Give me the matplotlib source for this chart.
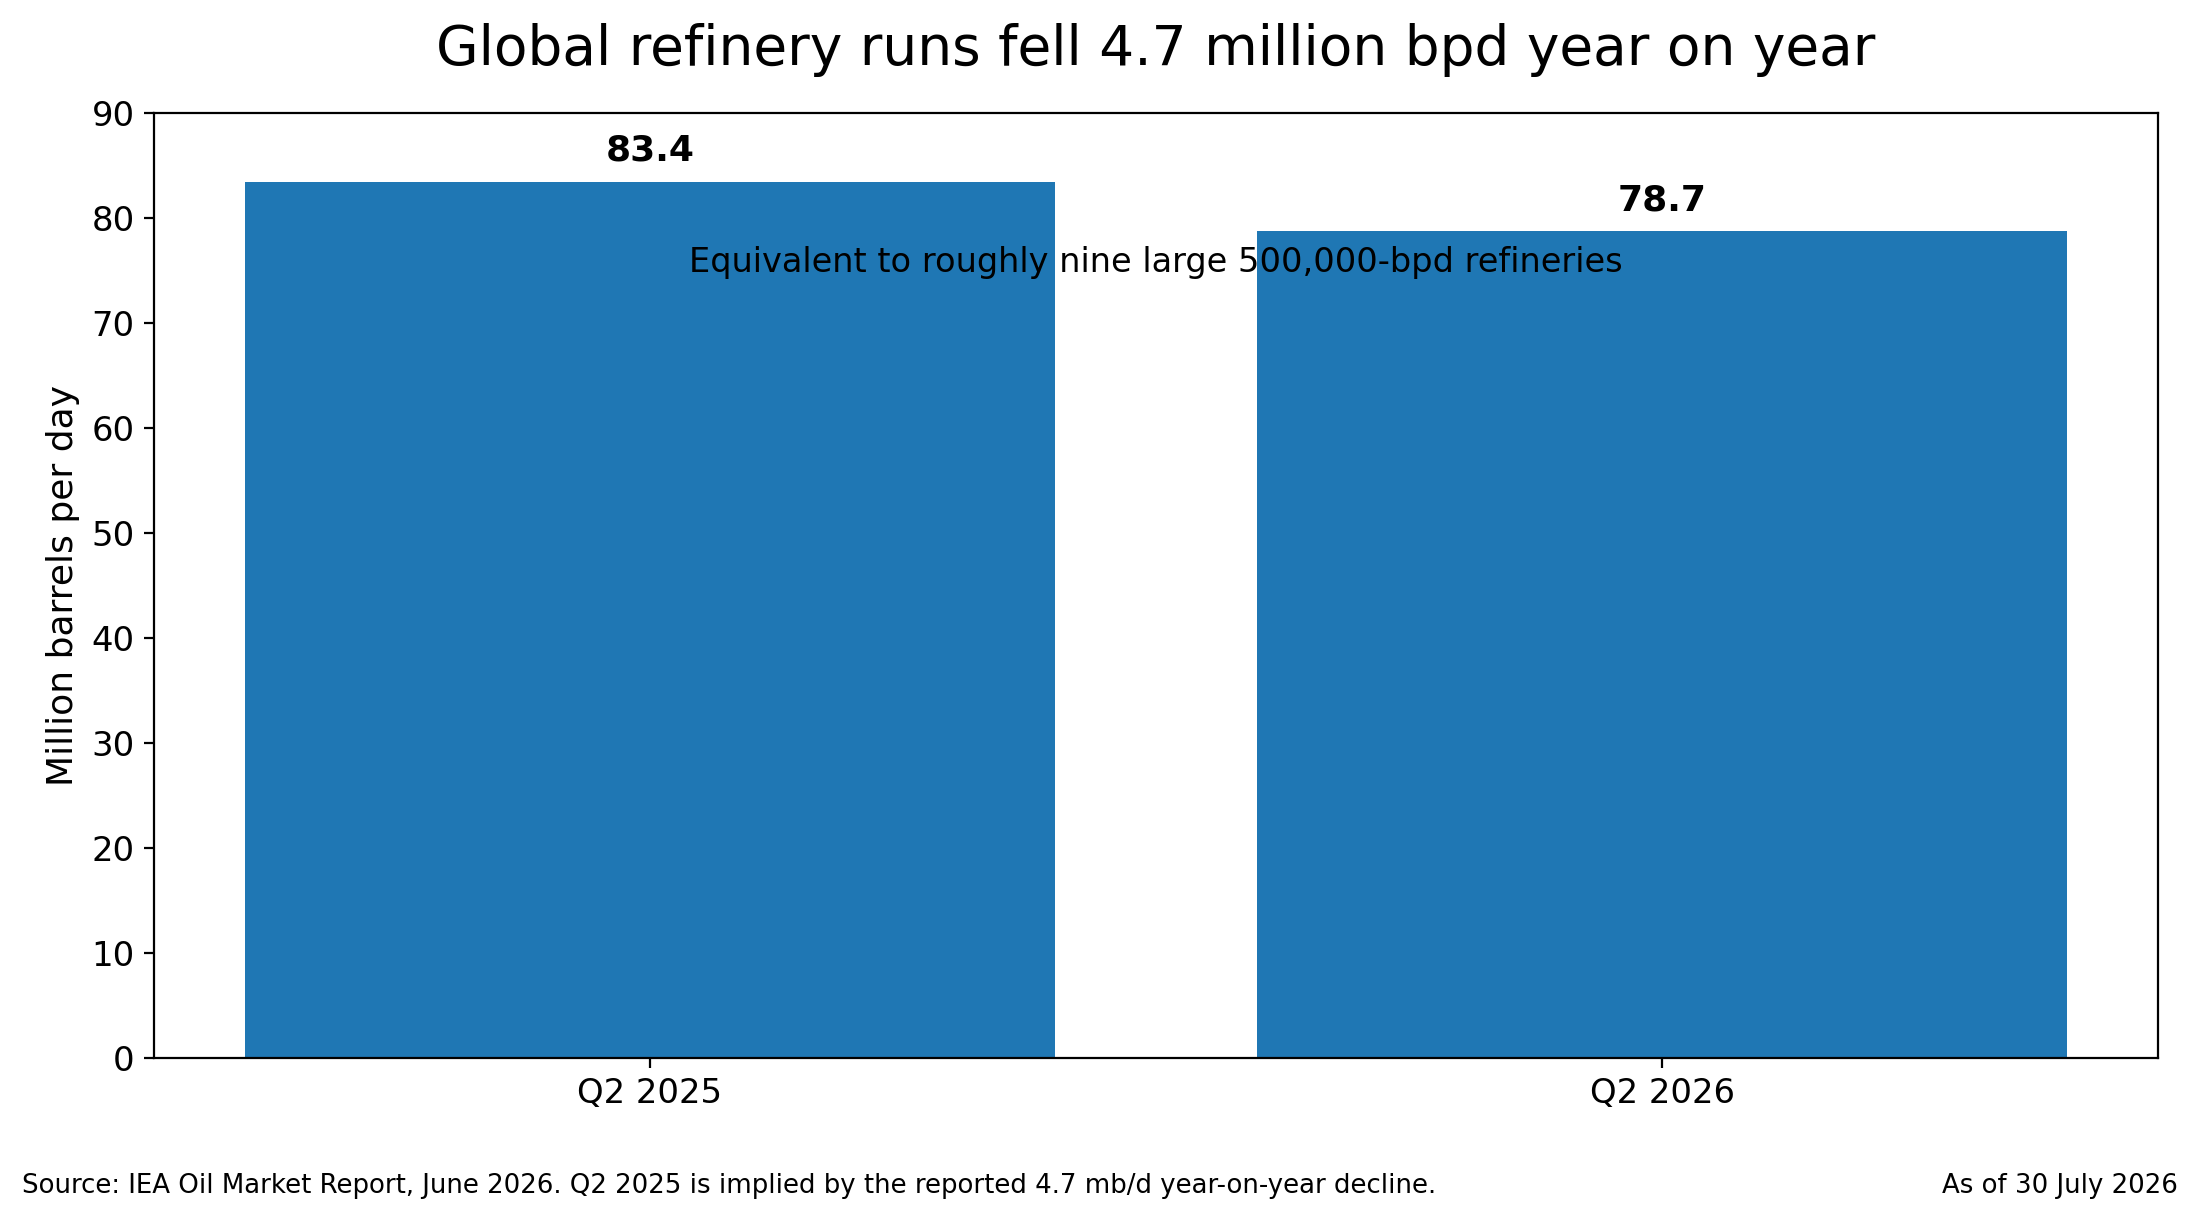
import matplotlib
matplotlib.use("Agg")
import matplotlib.pyplot as plt

# Data
periods = ["Q2 2025", "Q2 2026"]
runs_mbpd = [83.4, 78.7]

title = "Global refinery runs fell 4.7 million bpd year on year"
note = "Equivalent to roughly nine large 500,000-bpd refineries"
source = ("Source: IEA Oil Market Report, June 2026. Q2 2025 is implied by the "
          "reported 4.7 mb/d year-on-year decline.")
as_of = "As of 30 July 2026"

fig = plt.figure(figsize=(11, 6.115), dpi=200)
ax = fig.add_axes([0.07, 0.135, 0.911, 0.773])

bars = ax.bar(periods, runs_mbpd, color="#1f77b4", width=0.8)
for b, v in zip(bars, runs_mbpd):
    ax.annotate(f"{v:.1f}", (b.get_x() + b.get_width() / 2, v),
                xytext=(0, 5), textcoords="offset points",
                ha="center", va="bottom", fontsize=13, fontweight="bold")

ax.set_ylim(0, 90)
ax.set_ylabel("Million barrels per day", fontsize=13)
ax.tick_params(labelsize=12.2)
ax.set_title(title, fontsize=19.8, pad=17)

ax.text(0.5, 0.841, note, transform=ax.transAxes, ha="center", va="center",
        fontsize=12.1)

fig.text(0.01, 0.03, source, ha="left", va="center", fontsize=9.35)
fig.text(0.99, 0.03, as_of, ha="right", va="center", fontsize=9.35)

fig.savefig("out.png", dpi=200)
